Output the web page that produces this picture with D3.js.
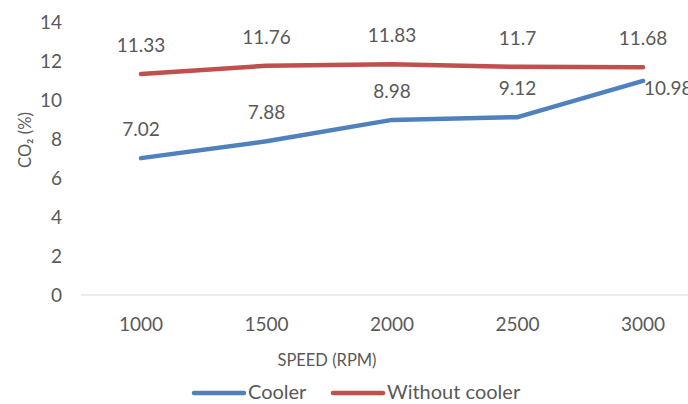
<!DOCTYPE html>
<html>
<head>
<meta charset="utf-8">
<script src="https://cdn.jsdelivr.net/npm/d3@7"></script>
<style>
  body { margin: 0; background: #fff; }
  text { font-family: Lato, "Open Sans", sans-serif; fill: #595959; }
</style>
</head>
<body>
<div id="chart"></div>
<script>
  // chart data
  var speeds = ['1000', '1500', '2000', '2500', '3000'];
  var cooler = [7.02, 7.88, 8.98, 9.12, 10.98];
  var withoutCooler = [11.33, 11.76, 11.83, 11.7, 11.68];
  var yTicks = [0, 2, 4, 6, 8, 10, 12, 14];

  var W = 688, H = 404;
  var svg = d3.select('#chart').append('svg')
    .attr('width', W)
    .attr('height', H);

  var x = d3.scalePoint().domain(speeds).range([141, 643]);
  var y = d3.scaleLinear().domain([0, 14]).range([295, 22]);

  // baseline
  svg.append('line')
    .attr('x1', 81).attr('x2', 710)
    .attr('y1', y(0)).attr('y2', y(0))
    .attr('stroke', '#d9d9d9').attr('stroke-width', 1);

  // y tick labels
  svg.selectAll('.ytick').data(yTicks).enter().append('text')
    .attr('class', 'ytick')
    .attr('x', 62).attr('y', d => y(d))
    .attr('dy', '0.36em')
    .attr('text-anchor', 'end')
    .attr('font-size', 19)
    .text(d => d);

  // x tick labels
  svg.selectAll('.xtick').data(speeds).enter().append('text')
    .attr('class', 'xtick')
    .attr('x', d => x(d)).attr('y', 331)
    .attr('text-anchor', 'middle')
    .attr('font-size', 19)
    .text(d => d);

  // axis titles
  svg.append('text')
    .attr('x', 327).attr('y', 366)
    .attr('text-anchor', 'middle')
    .attr('font-size', 16.5)
    .text('SPEED (RPM)');
  svg.append('text')
    .attr('transform', 'translate(31,140) rotate(-90)')
    .attr('text-anchor', 'middle')
    .attr('font-size', 16.5)
    .text('CO₂ (%)');

  var line = d3.line()
    .x((d, i) => x(speeds[i]))
    .y(d => y(d));

  var series = [
    {name: 'Cooler', values: cooler, color: '#4F81BD'},
    {name: 'Without cooler', values: withoutCooler, color: '#C0504D'}
  ];

  series.forEach(function (s) {
    svg.append('path')
      .datum(s.values)
      .attr('d', line)
      .attr('fill', 'none')
      .attr('stroke', s.color)
      .attr('stroke-width', 4.5)
      .attr('stroke-linecap', 'round')
      .attr('stroke-linejoin', 'round');
  });

  // data labels (last Cooler label sits to the right of its point)
  series.forEach(function (s) {
    svg.selectAll(null).data(s.values).enter().append('text')
      .attr('x', (d, i) => (s.name === 'Cooler' && i === 4) ? x(speeds[i]) + 1 : x(speeds[i]))
      .attr('y', (d, i) => (s.name === 'Cooler' && i === 4) ? y(d) + 14 : y(d) - 22)
      .attr('text-anchor', (d, i) => (s.name === 'Cooler' && i === 4) ? 'start' : 'middle')
      .attr('font-size', 19)
      .attr('fill', '#404040')
      .text(d => d);
  });

  // legend
  var legend = [
    {name: 'Cooler', color: '#4F81BD', x: 194},
    {name: 'Without cooler', color: '#C0504D', x: 333}
  ];
  legend.forEach(function (l) {
    svg.append('line')
      .attr('x1', l.x).attr('x2', l.x + 50)
      .attr('y1', 393).attr('y2', 393)
      .attr('stroke', l.color).attr('stroke-width', 4.5)
      .attr('stroke-linecap', 'round');
    svg.append('text')
      .attr('x', l.x + 54).attr('y', 399)
      .attr('font-size', 20)
      .text(l.name);
  });
</script>
</body>
</html>
